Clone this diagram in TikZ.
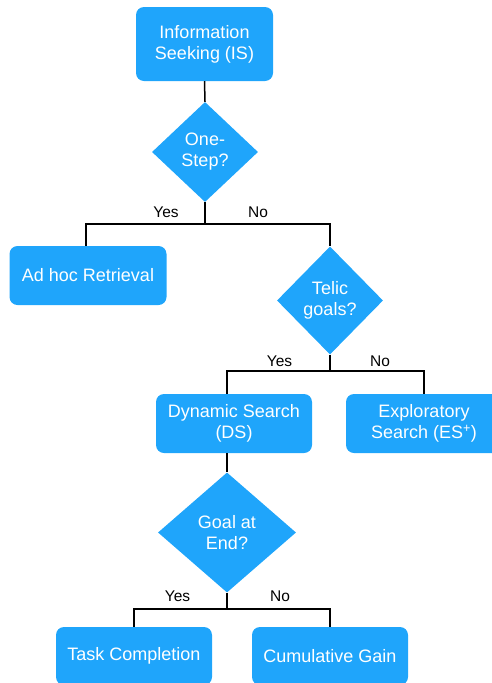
\documentclass[tikz,border=0pt]{standalone}
\usepackage{fontspec}
\setmainfont{Liberation Sans}
\usetikzlibrary{shapes.geometric}
\definecolor{flowblue}{RGB}{31,165,251}
\begin{document}
\begin{tikzpicture}[x=1pt,y=-1pt,
  boxnode/.style={draw=none,fill=flowblue,rounded corners=8pt,text=white,align=center,
    inner sep=0pt,font=\fontsize{18}{21}\selectfont},
  decnode/.style={diamond,draw=none,fill=flowblue,text=white,align=center,inner sep=0pt,
    font=\fontsize{18}{21}\selectfont},
  link/.style={draw=black,line width=1.5pt},
  lbl/.style={font=\fontsize{15.5}{18}\selectfont,inner sep=0pt}]
\useasboundingbox (0,0) rectangle (492,683);
% boxes
\node[boxnode,minimum width=137pt,minimum height=74pt] (IS) at (204.5,44) {Information\\Seeking (IS)};
\node[decnode,minimum width=106pt,minimum height=100pt] (One) at (205,152) {One-\\Step?};
\node[boxnode,minimum width=157pt,minimum height=59pt] (AdHoc) at (88,275.5) {Ad hoc Retrieval};
\node[decnode,minimum width=106pt,minimum height=108pt] (Telic) at (330,300.5) {Telic\\goals?};
\node[boxnode,minimum width=156pt,minimum height=59pt] (DS) at (234,423.5) {Dynamic Search\\(DS)};
\node[boxnode,minimum width=156pt,minimum height=59pt] (ES) at (424,423.5) {Exploratory\\Search (ES\textsuperscript{+})};
\node[decnode,minimum width=138pt,minimum height=120pt] (Goal) at (227,532.5) {Goal at\\End?};
\node[boxnode,minimum width=156pt,minimum height=58pt] (Task) at (134,656) {Task Completion};
\node[boxnode,minimum width=156pt,minimum height=58pt] (Cum) at (330,656) {Cumulative Gain};
% junctions
\coordinate (b1) at (205,224);
\coordinate (b2) at (330,371);
\coordinate (b3) at (227,609);
% connectors
\draw[link] (IS.south) -- (One.north);
\draw[link] (One.south) -- (b1);
\draw[link] ([xshift=-2pt]AdHoc.north) |- (b1) -| (Telic.north);
\draw[link] (Telic.south) -- (b2);
\draw[link] ([xshift=-7pt]DS.north) |- (b2) -| (ES.north);
\draw[link] ([xshift=-7pt]DS.south) -- (Goal.north);
\draw[link] (Goal.south) -- (b3);
\draw[link] (Task.north) |- (b3) -| (Cum.north);
% labels
\node[lbl] (y1) at (166,212.5) {Yes};
\node[lbl] (n1) at (258,212.5) {No};
\node[lbl] (y2) at (279.5,361) {Yes};
\node[lbl] (n2) at (380,361) {No};
\node[lbl] (y3) at (177.5,596.5) {Yes};
\node[lbl] (n3) at (280,596.5) {No};
\end{tikzpicture}
\end{document}
